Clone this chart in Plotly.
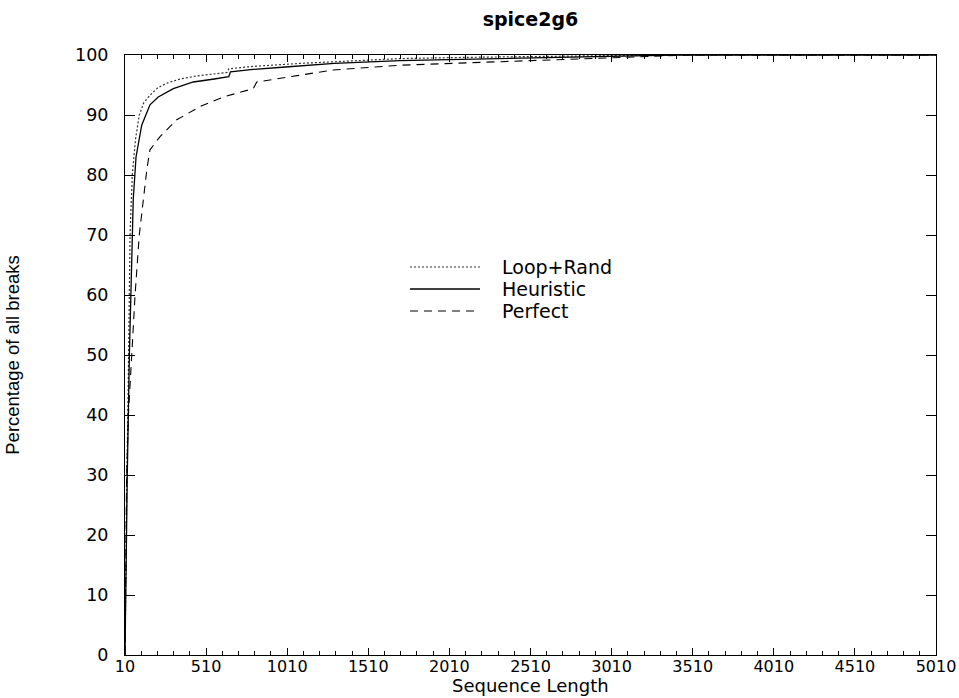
import plotly.graph_objects as go

# Cumulative share of breaks vs. sequence length (spice2g6)
loop_rand_x = [10, 13, 17, 22, 30, 41, 55, 75, 98, 125, 164, 210, 267, 350, 450, 575, 640, 650, 800, 1089, 1400, 1705, 2100, 2600, 3000, 3300, 5010]
loop_rand_y = [0, 10, 20, 30, 45, 70, 80, 86, 90, 92, 93.3, 94.5, 95.3, 96, 96.5, 96.9, 97.1, 97.7, 98.1, 98.6, 99.0, 99.4, 99.6, 99.8, 99.9, 100, 100]

heuristic_x = [10, 14, 18, 24, 37, 51, 61, 78, 113, 164, 215, 308, 431, 560, 650, 660, 800, 1000, 1300, 1705, 2100, 2600, 3000, 3400, 5010]
heuristic_y = [0, 10, 20, 30, 50, 66, 76, 83, 88.3, 91.7, 93, 94.4, 95.5, 96, 96.4, 97.2, 97.6, 98.0, 98.6, 99.05, 99.3, 99.6, 99.8, 100, 100]

perfect_x = [10, 13, 16, 20, 31, 51, 72, 98, 123, 145, 164, 226, 329, 472, 616, 801, 822, 1089, 1293, 1705, 2100, 2500, 2900, 3200, 3500, 5010]
perfect_y = [0, 10, 20, 30, 40, 50, 60, 70, 76, 81, 84.2, 86.4, 89.2, 91.4, 93, 94.4, 95.5, 96.7, 97.5, 98.3, 98.7, 99.1, 99.5, 99.8, 100, 100]

series_names = ["Loop+Rand", "Heuristic", "Perfect"]

x_ticks = [10, 510, 1010, 1510, 2010, 2510, 3010, 3510, 4010, 4510, 5010]
y_ticks = [0, 10, 20, 30, 40, 50, 60, 70, 80, 90, 100]

line_styles = [
    dict(color="#333333", width=1.2, dash="2px,2px"),
    dict(color="#000000", width=1.3),
    dict(color="#000000", width=1.1, dash="8px,6px"),
]

fig = go.Figure()
for name, xs, ys, style in zip(series_names,
                               [loop_rand_x, heuristic_x, perfect_x],
                               [loop_rand_y, heuristic_y, perfect_y],
                               line_styles):
    fig.add_trace(go.Scatter(x=xs, y=ys, mode="lines", name=name, line=style, showlegend=False))

# Key drawn inside the plot area: sample line plus label per series
key_rows_y = [0.6467, 0.61, 0.5733]
for name, style, ky in zip(series_names, line_styles, key_rows_y):
    fig.add_shape(type="line", xref="paper", yref="paper",
                  x0=0.3514, x1=0.4377, y0=ky, y1=ky, line=style)
    fig.add_annotation(text=name, xref="paper", yref="paper", x=0.4624, y=ky,
                       xanchor="left", yanchor="middle", showarrow=False,
                       font=dict(family="DejaVu Sans", size=19, color="black"))

wide = "DejaVu Sans, Verdana, sans-serif"

# x-axis title pinned to the bottom edge of the figure
fig.add_annotation(text="Sequence Length", xref="paper", yref="paper", x=0.5, y=-0.0717,
                   xanchor="center", yanchor="bottom", showarrow=False,
                   font=dict(family=wide, size=18, color="black"))

fig.update_layout(
    width=959, height=698,
    margin=dict(l=125, r=23, t=55, b=43, autoexpand=False),
    paper_bgcolor="white", plot_bgcolor="white",
    font=dict(family=wide, size=17, color="black"),
    title=dict(text="<b>spice2g6</b>", x=(125 + 936) / 2 / 959, xanchor="center",
               y=1 - 19 / 698, yanchor="middle", font=dict(family=wide, size=19)),
)
fig.update_xaxes(
    range=[10, 5010], tickvals=x_ticks, ticktext=[str(v) for v in x_ticks],
    ticks="inside", ticklen=7, tickwidth=1, tickcolor="black",
    minor=dict(tickmode="linear", tick0=10, dtick=100, ticks="inside", ticklen=4, tickcolor="black"),
    showline=True, linecolor="black", linewidth=1, mirror="allticks",
    showgrid=False, zeroline=False, automargin=False,
    tickfont=dict(family=wide, size=16), ticklabelstandoff=-3,
)
fig.update_yaxes(
    range=[0, 100], tickvals=y_ticks, ticktext=[str(v) for v in y_ticks],
    ticks="inside", ticklen=10, tickwidth=1, tickcolor="black",
    showline=True, linecolor="black", linewidth=1, mirror="allticks",
    showgrid=False, zeroline=False, automargin=False,
    tickfont=dict(family=wide, size=17.5), ticklabelstandoff=12,
    title=dict(text="Percentage of all breaks",
               font=dict(size=18.5, family="Liberation Sans, Arial, sans-serif"), standoff=50),
)

fig.write_html("out.html")
